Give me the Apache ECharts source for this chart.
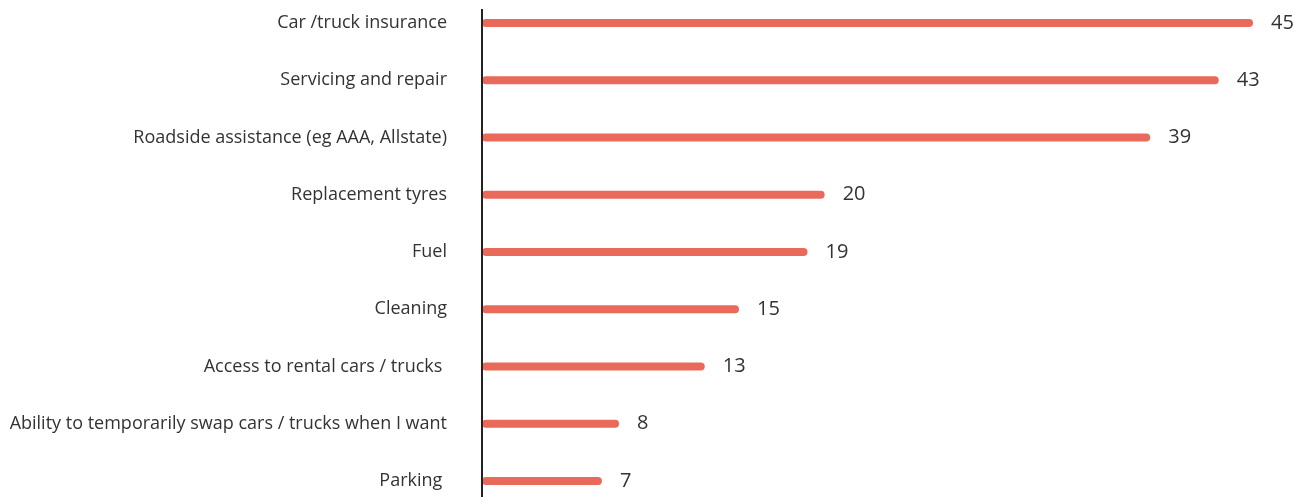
<!DOCTYPE html>
<html>
<head>
<meta charset="utf-8">
<script src="https://cdn.jsdelivr.net/npm/echarts@6/dist/echarts.min.js"></script>
<style>
html,body{margin:0;padding:0;background:#fff;}
#chart{width:1301px;height:497px;}
</style>
</head>
<body>
<div id="chart"></div>
<script>
const categories = [
  'Car /truck insurance',
  'Servicing and repair',
  'Roadside assistance (eg AAA, Allstate)',
  'Replacement tyres',
  'Fuel',
  'Cleaning',
  'Access to rental cars / trucks ',
  'Ability to temporarily swap cars / trucks when I want',
  'Parking '
];
const values = [45, 43, 39, 20, 19, 15, 13, 8, 7];

const chart = echarts.init(document.getElementById('chart'));
chart.setOption({
  animation: false,
  grid: { left: 482, right: 48, top: 23, bottom: 16, containLabel: false },
  xAxis: {
    type: 'value', min: 0, max: 45,
    show: false
  },
  yAxis: {
    type: 'category',
    data: categories,
    inverse: true,
    boundaryGap: false,
    axisLine: { show: false },
    axisTick: { show: false },
    axisLabel: {
      margin: 35,
      fontFamily: 'Open Sans',
      fontSize: 18,
      color: '#333'
    }
  },
  graphic: [{
    type: 'line',
    shape: { x1: 482, y1: 9, x2: 482, y2: 497 },
    style: { stroke: '#222', lineWidth: 2 },
    z: 10
  }],
  series: [{
    type: 'bar',
    data: values,
    barWidth: 8,
    itemStyle: { color: '#E96A5B', borderRadius: 4 },
    label: {
      show: true,
      position: 'right',
      distance: 18,
      fontFamily: 'Open Sans',
      fontSize: 20,
      color: '#333'
    }
  }]
});
</script>
</body>
</html>
